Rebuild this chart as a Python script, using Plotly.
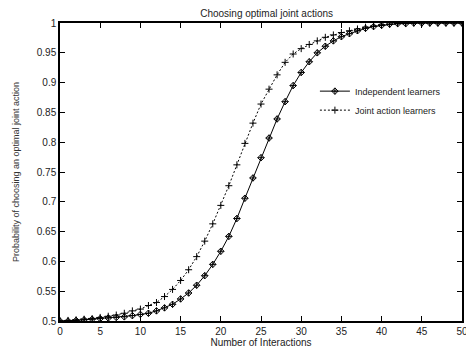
import plotly.graph_objects as go

interactions = list(range(0, 51))

independent_learners = [
    0.500, 0.500, 0.501, 0.502, 0.503, 0.504, 0.505, 0.506, 0.507, 0.509,
    0.511, 0.513, 0.517, 0.522, 0.528, 0.537, 0.547, 0.560, 0.576, 0.595,
    0.617, 0.642, 0.672, 0.706, 0.740, 0.774, 0.807, 0.839, 0.868, 0.895,
    0.917, 0.935, 0.950, 0.961, 0.970, 0.977, 0.982, 0.987, 0.991, 0.994,
    0.996, 0.998, 0.999, 0.999, 1.000, 1.000, 1.000, 1.000, 1.000, 1.000,
    1.000,
]

joint_action_learners = [
    0.500, 0.501, 0.502, 0.503, 0.504, 0.506, 0.508, 0.510, 0.513, 0.517,
    0.520, 0.526, 0.531, 0.541, 0.553, 0.568, 0.586, 0.608, 0.634, 0.663,
    0.694, 0.727, 0.762, 0.798, 0.832, 0.864, 0.889, 0.913, 0.934, 0.948,
    0.957, 0.964, 0.970, 0.976, 0.980, 0.984, 0.987, 0.990, 0.993, 0.995,
    0.997, 0.998, 0.999, 0.999, 1.000, 1.000, 1.000, 1.000, 1.000, 1.000,
    1.000,
]

x_ticks = list(range(0, 51, 5))
y_ticks = [0.5, 0.55, 0.6, 0.65, 0.7, 0.75, 0.8, 0.85, 0.9, 0.95, 1.0]
y_tick_labels = ["0.5", "0.55", "0.6", "0.65", "0.7", "0.75", "0.8", "0.85", "0.9", "0.95", "1"]

FONT = "Liberation Sans, Arial, sans-serif"

# page body has an 8px default margin; figure is sized so the plot lands where the reference has it
W, H = 466, 342

fig = go.Figure()
fig.add_trace(go.Scatter(
    x=interactions, y=independent_learners, name="Independent learners",
    mode="lines+markers",
    line=dict(color="black", width=1),
    marker=dict(symbol="diamond-cross-open", size=5, color="black", line=dict(width=1, color="black")),
))
fig.add_trace(go.Scatter(
    x=interactions, y=joint_action_learners, name="Joint action learners",
    mode="lines+markers",
    line=dict(color="black", width=1, dash="2px,2px"),
    marker=dict(symbol="cross-thin-open", size=5, color="black", line=dict(width=1, color="black")),
))

axis_common = dict(
    showline=True, linecolor="black", linewidth=1.5, mirror="ticks",
    ticks="inside", ticklen=5, tickcolor="black", tickwidth=1,
    showgrid=False, zeroline=False,
    tickfont=dict(family=FONT, size=10, color="#222"),
)

fig.update_layout(
    width=W, height=H,
    margin=dict(l=52, r=6, t=15, b=28),
    paper_bgcolor="white", plot_bgcolor="white",
    title=dict(text="Choosing optimal joint actions", x=0.555, xanchor="center",
               y=1 - 5 / H, yanchor="middle",
               font=dict(family=FONT, size=10, color="#222")),
    xaxis=dict(range=[0, 50], tickvals=x_ticks,
               title=dict(text="Number of Interactions", standoff=0,
                          font=dict(family=FONT, size=10, color="#222")),
               **axis_common),
    yaxis=dict(range=[0.5, 1.0], tickvals=y_ticks, ticktext=y_tick_labels,
               title=dict(text="Probability of choosing an optimal joint action", standoff=16,
                          font=dict(family=FONT, size=9, color="#333")),
               **axis_common),
    legend=dict(x=0.96, xanchor="right", y=0.82, yanchor="top",
                bgcolor="rgba(0,0,0,0)", font=dict(family=FONT, size=9, color="#222"),
                itemwidth=30, tracegroupgap=0),
    showlegend=True,
)

fig.write_html("out.html")
